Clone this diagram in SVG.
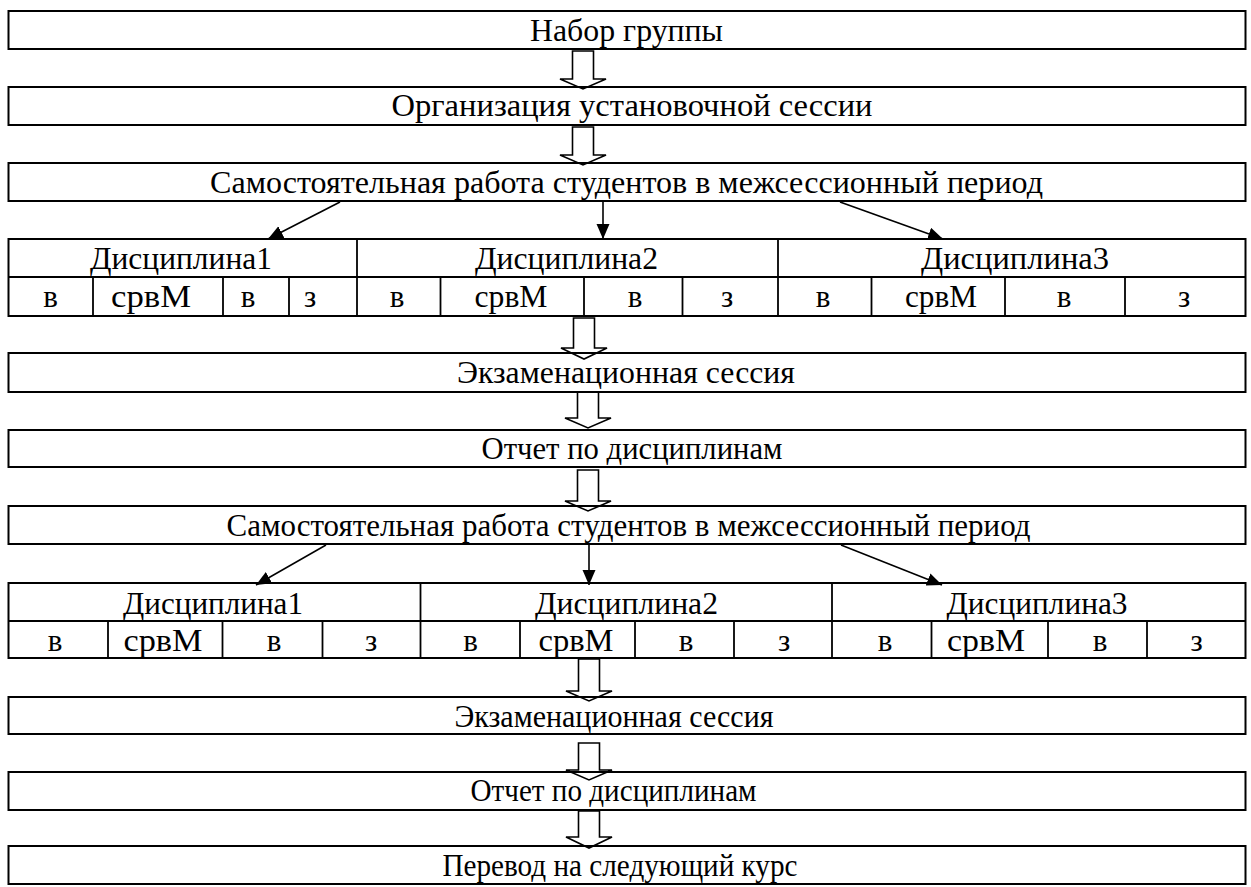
<svg xmlns="http://www.w3.org/2000/svg" width="1251" height="887" viewBox="0 0 1251 887">
<style>
.box{fill:none;stroke:#000;stroke-width:2}
.ln{fill:none;stroke:#000;stroke-width:1.8}
.blk{fill:#fff;stroke:#000;stroke-width:1.6;stroke-linejoin:miter}
.thin{fill:none;stroke:#000;stroke-width:1.6}
text{font-family:"Liberation Serif","Times New Roman",serif;font-size:31px;fill:#000;text-anchor:middle}
</style>
<defs>
<marker id="ah" markerUnits="userSpaceOnUse" markerWidth="16" markerHeight="14" refX="15" refY="6.5" orient="auto">
<path d="M0,0 L15,6.5 L0,13 Z" fill="#000"/>
</marker>
</defs>

<g id="connectors">
<path class="blk" d="M572.5,51 L593.5,51 L593.5,79 L606,79 L583,89 L560,79 L572.5,79 Z"/>
<path class="blk" d="M572.5,127 L593.5,127 L593.5,155 L606,155 L583,165 L560,155 L572.5,155 Z"/>
<path class="blk" d="M573.5,318 L594.5,318 L594.5,348 L607,348 L584,359 L561,348 L573.5,348 Z"/>
<path class="blk" d="M577.5,392 L598.5,392 L598.5,418 L611,418 L588,428 L565,418 L577.5,418 Z"/>
<path class="blk" d="M577.5,470 L598.5,470 L598.5,501 L611,501 L588,511 L565,501 L577.5,501 Z"/>
<path class="blk" d="M578.5,659 L599.5,659 L599.5,691 L612,691 L589,701 L566,691 L578.5,691 Z"/>
<path class="blk" d="M578.5,743 L599.5,743 L599.5,770 L612,770 L589,780 L566,770 L578.5,770 Z"/>
<path class="blk" d="M578.5,811 L599.5,811 L599.5,837 L612,837 L589,848 L566,837 L578.5,837 Z"/>
<line class="thin" x1="340" y1="202" x2="268" y2="239" marker-end="url(#ah)"/>
<line class="thin" x1="603" y1="202" x2="603" y2="239" marker-end="url(#ah)"/>
<line class="thin" x1="840" y1="202" x2="943" y2="239" marker-end="url(#ah)"/>
<line class="thin" x1="326" y1="545" x2="256" y2="585" marker-end="url(#ah)"/>
<line class="thin" x1="589" y1="545" x2="589" y2="585" marker-end="url(#ah)"/>
<line class="thin" x1="841" y1="545" x2="942" y2="585" marker-end="url(#ah)"/>
</g>

<g id="n1"><rect class="box" x="8.5" y="11" width="1237" height="38"/><text x="626.5" y="41" textLength="193" lengthAdjust="spacingAndGlyphs">Набор группы</text></g>
<g id="n2"><rect class="box" x="8.5" y="87" width="1237" height="38"/><text x="632" y="116" textLength="481" lengthAdjust="spacingAndGlyphs">Организация установочной сессии</text></g>
<g id="n3"><rect class="box" x="8.5" y="163" width="1237" height="38"/><text x="626.5" y="193" textLength="833" lengthAdjust="spacingAndGlyphs">Самостоятельная работа студентов в межсессионный период</text></g>

<g id="table1">
<rect class="box" x="8.5" y="239" width="1237" height="77"/>
<line class="ln" x1="8.5" y1="277" x2="1245.5" y2="277"/>
<line class="ln" x1="357" y1="239" x2="357" y2="316"/>
<line class="ln" x1="778" y1="239" x2="778" y2="316"/>
<line class="ln" x1="93" y1="277" x2="93" y2="316"/>
<line class="ln" x1="223" y1="277" x2="223" y2="316"/>
<line class="ln" x1="289" y1="277" x2="289" y2="316"/>
<line class="ln" x1="440.5" y1="277" x2="440.5" y2="316"/>
<line class="ln" x1="584" y1="277" x2="584" y2="316"/>
<line class="ln" x1="682.5" y1="277" x2="682.5" y2="316"/>
<line class="ln" x1="871.5" y1="277" x2="871.5" y2="316"/>
<line class="ln" x1="1005" y1="277" x2="1005" y2="316"/>
<line class="ln" x1="1125" y1="277" x2="1125" y2="316"/>
<text x="181" y="269" textLength="182" lengthAdjust="spacingAndGlyphs">Дисциплина1</text>
<text x="566.5" y="269" textLength="183" lengthAdjust="spacingAndGlyphs">Дисциплина2</text>
<text x="1015" y="269" textLength="188" lengthAdjust="spacingAndGlyphs">Дисциплина3</text>
<text x="50.5" y="307">в</text>
<text x="151" y="307" textLength="80" lengthAdjust="spacingAndGlyphs">срвМ</text>
<text x="248" y="307">в</text>
<text x="310" y="307">з</text>
<text x="397" y="307">в</text>
<text x="511" y="307" textLength="73" lengthAdjust="spacingAndGlyphs">срвМ</text>
<text x="635" y="307">в</text>
<text x="727" y="307">з</text>
<text x="823" y="307">в</text>
<text x="941" y="307" textLength="72" lengthAdjust="spacingAndGlyphs">срвМ</text>
<text x="1064" y="307">в</text>
<text x="1184" y="307">з</text>
</g>

<g id="n4"><rect class="box" x="8.5" y="353" width="1237" height="39"/><text x="626" y="382.5" textLength="338" lengthAdjust="spacingAndGlyphs">Экзаменационная сессия</text></g>
<g id="n5"><rect class="box" x="8.5" y="430" width="1237" height="37"/><text x="632" y="459" textLength="301" lengthAdjust="spacingAndGlyphs">Отчет по дисциплинам</text></g>
<g id="n6"><rect class="box" x="8.5" y="506" width="1237" height="38"/><text x="628.5" y="535.5" textLength="804" lengthAdjust="spacingAndGlyphs">Самостоятельная работа студентов в межсессионный период</text></g>

<g id="table2">
<rect class="box" x="8.5" y="583" width="1237" height="75"/>
<line class="ln" x1="8.5" y1="621" x2="1245.5" y2="621"/>
<line class="ln" x1="420.5" y1="583" x2="420.5" y2="658"/>
<line class="ln" x1="832" y1="583" x2="832" y2="658"/>
<line class="ln" x1="108" y1="621" x2="108" y2="658"/>
<line class="ln" x1="222.5" y1="621" x2="222.5" y2="658"/>
<line class="ln" x1="322.5" y1="621" x2="322.5" y2="658"/>
<line class="ln" x1="520" y1="621" x2="520" y2="658"/>
<line class="ln" x1="635" y1="621" x2="635" y2="658"/>
<line class="ln" x1="734" y1="621" x2="734" y2="658"/>
<line class="ln" x1="931.5" y1="621" x2="931.5" y2="658"/>
<line class="ln" x1="1048" y1="621" x2="1048" y2="658"/>
<line class="ln" x1="1147" y1="621" x2="1147" y2="658"/>
<text x="213" y="613.5" textLength="180" lengthAdjust="spacingAndGlyphs">Дисциплина1</text>
<text x="626.5" y="613.5" textLength="183" lengthAdjust="spacingAndGlyphs">Дисциплина2</text>
<text x="1037" y="613.5" textLength="181" lengthAdjust="spacingAndGlyphs">Дисциплина3</text>
<text x="55" y="651">в</text>
<text x="163" y="651" textLength="79" lengthAdjust="spacingAndGlyphs">срвМ</text>
<text x="274" y="651">в</text>
<text x="371" y="651">з</text>
<text x="470.5" y="651">в</text>
<text x="576" y="651" textLength="75" lengthAdjust="spacingAndGlyphs">срвМ</text>
<text x="686" y="651">в</text>
<text x="784" y="651">з</text>
<text x="885" y="651">в</text>
<text x="986" y="651" textLength="78" lengthAdjust="spacingAndGlyphs">срвМ</text>
<text x="1100" y="651">в</text>
<text x="1196.5" y="651">з</text>
</g>

<g id="n7"><rect class="box" x="8.5" y="697" width="1237" height="37"/><text x="614" y="726.5" textLength="319" lengthAdjust="spacingAndGlyphs">Экзаменационная сессия</text></g>
<g id="n8"><rect class="box" x="8.5" y="772" width="1237" height="38"/><text x="613.5" y="801" textLength="286" lengthAdjust="spacingAndGlyphs">Отчет по дисциплинам</text></g>
<g id="n9"><rect class="box" x="8.5" y="846" width="1237" height="38"/><text x="620" y="876" textLength="355" lengthAdjust="spacingAndGlyphs">Перевод на следующий курс</text></g>
</svg>
